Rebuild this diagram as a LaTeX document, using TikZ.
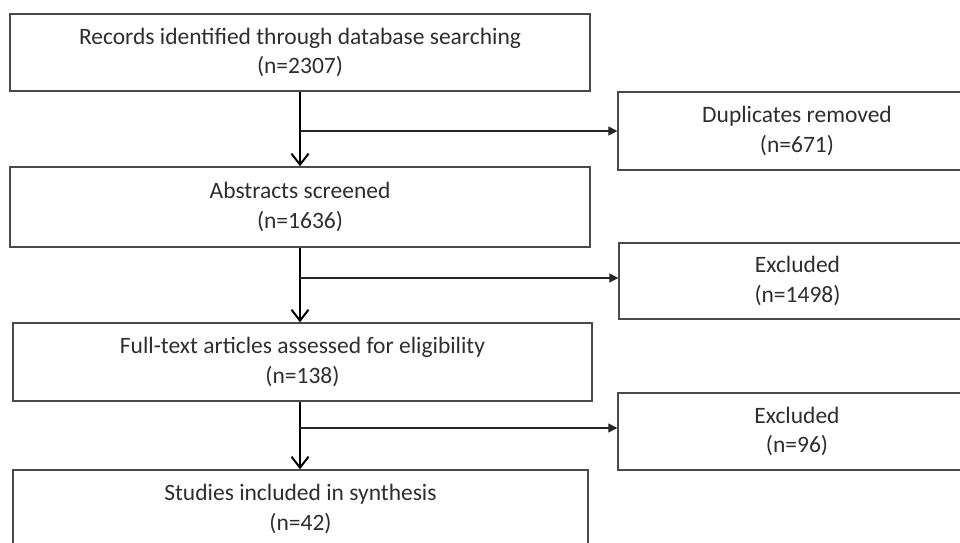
\documentclass[tikz,border=0pt]{standalone}
\usepackage{fontspec}
\setmainfont{Carlito}
\usetikzlibrary{arrows.meta}
\definecolor{boxline}{HTML}{4A4A4A}
\definecolor{txt}{HTML}{2E2E2E}
\begin{document}
\begin{tikzpicture}[x=1pt,y=-1pt,
  box/.style={draw=boxline, line width=1.4pt, fill=white, align=center,
    text=txt, font=\fontsize{23.5}{29.5}\selectfont, inner sep=0pt},
  varrow/.style={draw=black, line width=2.2pt, -{Straight Barb[length=11pt,width=17pt,line width=2pt]}},
  harrow/.style={draw=black!85, line width=1.3pt, -{Triangle[length=9pt,width=9pt]}}]
\useasboundingbox (0,0) rectangle (960,542);
\clip (0,0) rectangle (960,542);
\node[box, minimum width=580pt, minimum height=77pt] (b1) at (300,52.5)
  {Records identified through database searching\\(n=2307)};
\node[box, minimum width=358pt, minimum height=78pt] (b2) at (797,131)
  {Duplicates removed\\(n=671)};
\node[box, minimum width=580pt, minimum height=80pt] (b3) at (300,207)
  {Abstracts screened\\(n=1636)};
\node[box, minimum width=357pt, minimum height=76pt] (b4) at (797.5,281)
  {Excluded\\(n=1498)};
\node[box, minimum width=579pt, minimum height=78pt] (b5) at (302.5,362)
  {Full-text articles assessed for eligibility\\(n=138)};
\node[box, minimum width=358pt, minimum height=77pt] (b6) at (797,431.5)
  {Excluded\\(n=96)};
\node[box, minimum width=575pt, minimum height=78pt] (b7) at (300.5,509)
  {Studies included in synthesis\\(n=42)};
\coordinate (j1) at (300,131);
\coordinate (j2) at (300,278);
\coordinate (j3) at (300,428);
\draw[varrow] (b1.south -| j1) -- (b3.north -| j1);
\draw[varrow] (b3.south -| j2) -- (b5.north -| j2);
\draw[varrow] (b5.south -| j3) -- (b7.north -| j3);
\draw[harrow] (j1) -- (b2.west);
\draw[harrow] (j2) -- (j2 -| b4.west);
\draw[harrow] (j3) -- (j3 -| b6.west);
\end{tikzpicture}
\end{document}
